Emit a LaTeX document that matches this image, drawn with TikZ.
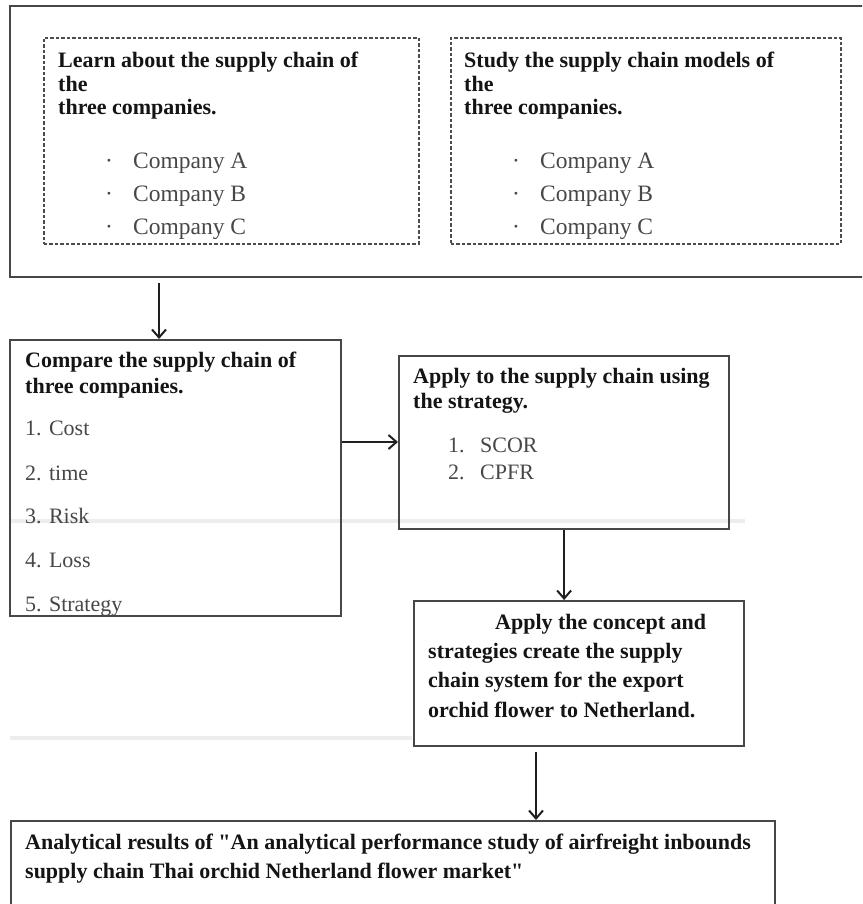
\documentclass[tikz,border=0pt]{standalone}
\usepackage{fontspec}
\setmainfont{Liberation Serif}[Ligatures=TeXOff]
\usetikzlibrary{arrows.meta}
\begin{document}
\begin{tikzpicture}[x=1pt,y=-1pt,
  box/.style={draw=black!72, line width=2.2pt, rectangle, inner sep=0pt, anchor=north west},
  dbox/.style={draw=black!70, line width=1.9pt, dash pattern=on 3.5pt off 2pt, rectangle, inner sep=0pt, anchor=north west},
  bt/.style={font=\fontsize{22}{24}\selectfont\bfseries, text=black!92, inner sep=0pt, anchor=base west},
  rt/.style={font=\fontsize{22}{24}\selectfont, text=black!72, inner sep=0pt, anchor=base west},
  ct/.style={font=\fontsize{23.5}{26}\selectfont, text=black!72, inner sep=0pt, anchor=base west},
  arr/.style={draw=black!88, line width=2.3pt, -{Straight Barb[length=8pt,width=14pt,line width=2pt]}},
  faint/.style={draw=black!7, line width=4pt}
]
\useasboundingbox (0,0) rectangle (862,904);
\clip (0,0) rectangle (862,904);
\fill[white] (0,0) rectangle (862,904);

% faint scan lines
\draw[faint] (10,521) -- (745,521);
\draw[faint] (10,738) -- (412,738);

% top outer box with two dashed boxes
\node[box, minimum width=900pt, minimum height=271pt] (outer) at (9,5) {};
\node[dbox, minimum width=375pt, minimum height=206pt] (learn) at (43,37) {};
\node[dbox, minimum width=390pt, minimum height=206pt] (study) at (450,37) {};

\node[bt] (l1) at (58,68) {Learn about the supply chain of};
\node[bt] (l2) at (58,91.5) {the};
\node[bt] (l3) at (58,115) {three companies.};
\node[bt] (s1) at (464,68) {Study the supply chain models of};
\node[bt] (s2) at (464,91.5) {the};
\node[bt] (s3) at (464,115) {three companies.};
\foreach \y/\c [count=\i] in {168/A,201/B,234/C} {
  \node[ct, name=lb\i] at (105,\y) {·};
  \node[ct, name=lc\i] at (133,\y) {Company \c};
  \node[ct, name=sb\i] at (512,\y) {·};
  \node[ct, name=sc\i] at (540,\y) {Company \c};
}

% compare box
\node[box, minimum width=331pt, minimum height=276pt] (compare) at (9,339) {};
\node[bt] (c1t) at (25,367) {Compare the supply chain of};
\node[bt] (c2t) at (25,393) {three companies.};
\foreach \y/\t [count=\i] in {435/{1. Cost},480/{2. time},523/{3. Risk},567/{4. Loss},611/{5. Strategy}} {
  \node[rt, name=ci\i] at (25,\y) {\t};
}

% apply box
\node[box, minimum width=330pt, minimum height=173pt] (apply) at (398,355) {};
\node[bt] (a1t) at (413,383) {Apply to the supply chain using};
\node[bt] (a2t) at (413,408) {the strategy.};
\node[rt] (an1) at (448,452) {1.};
\node[rt] (ai1) at (480,452) {SCOR};
\node[rt] (an2) at (448,479) {2.};
\node[rt] (ai2) at (480,479) {CPFR};

% concept box
\node[box, minimum width=330pt, minimum height=145pt] (concept) at (413,600) {};
\node[bt] (k1) at (495,629) {Apply the concept and};
\node[bt] (k2) at (428,658) {strategies create the supply};
\node[bt] (k3) at (428,687) {chain system for the export};
\node[bt] (k4) at (428,717) {orchid flower to Netherland.};

% results box
\node[box, minimum width=764pt, minimum height=120pt] (results) at (10,820) {};
\node[bt] (r1) at (25,849) {Analytical results of "An analytical performance study of airfreight inbounds};
\node[bt] (r2) at (25,878) {supply chain Thai orchid Netherland flower market"};

% connectors
\coordinate (x1) at (159,0);
\coordinate (y2) at (0,442);
\coordinate (x4) at (536,0);
\draw[arr] ([yshift=-5pt]outer.south -| x1) -- (compare.north -| x1);
\draw[arr] (compare.east |- y2) -- (apply.west |- y2);
\draw[arr] (apply.south) -- (apply.south |- concept.north);
\draw[arr] ([yshift=-5pt]concept.south -| x4) -- (results.north -| x4);
\end{tikzpicture}
\end{document}
